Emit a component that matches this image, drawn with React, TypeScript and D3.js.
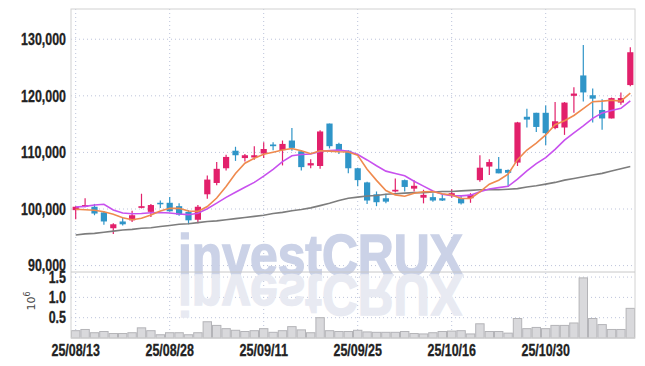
import React from "react";
import * as d3 from "d3";

const dates = [
  "25/08/13", "25/08/14", "25/08/18", "25/08/19", "25/08/20", "25/08/21", "25/08/22", "25/08/25", "25/08/26", "25/08/27",
  "25/08/28", "25/08/29", "25/09/01", "25/09/02", "25/09/03", "25/09/04", "25/09/05", "25/09/08", "25/09/09", "25/09/10",
  "25/09/11", "25/09/12", "25/09/15", "25/09/16", "25/09/17", "25/09/18", "25/09/19", "25/09/22", "25/09/23", "25/09/24",
  "25/09/25", "25/09/26", "25/09/29", "25/09/30", "25/10/01", "25/10/02", "25/10/10", "25/10/13", "25/10/14", "25/10/15",
  "25/10/16", "25/10/17", "25/10/20", "25/10/21", "25/10/22", "25/10/23", "25/10/24", "25/10/27", "25/10/28", "25/10/29",
  "25/10/30", "25/10/31", "25/11/03", "25/11/04", "25/11/05", "25/11/06", "25/11/07", "25/11/10", "25/11/11", "25/11/12",
];

const openP = [
  99800, 100400, 100400, 99400, 96600, 97800, 98000, 100200, 99500, 101100,
  101100, 100500, 99500, 98100, 102600, 104600, 107200, 110300, 109000, 109100,
  109800, 111400, 110400, 112100, 110200, 107700, 107600, 115100, 111500, 110300,
  107200, 104700, 102600, 101900, 103100, 105100, 103600, 102000, 102100, 101900,
  102400, 101900, 101900, 105100, 107500, 107100, 106900, 108200, 116300, 117000,
  117000, 114300, 114400, 120000, 123600, 120100, 117500, 116000, 118800, 121900,
];
const highP = [
  100500, 101900, 100900, 99600, 97500, 98600, 99700, 102700, 100900, 101500,
  102100, 101000, 99800, 100700, 105900, 108300, 109600, 111000, 109700, 111100,
  111800, 111800, 112100, 114300, 110300, 108800, 113900, 115100, 111700, 110400,
  107300, 104800, 103100, 102700, 105400, 105200, 105100, 103400, 102800, 102600,
  103500, 102400, 102800, 109500, 108800, 109200, 107000, 115400, 117700, 117000,
  118300, 118900, 118900, 121500, 129000, 121300, 119400, 119700, 120600, 128600,
];
const lowP = [
  98200, 100300, 98900, 97200, 95600, 97100, 97700, 100100, 98600, 100200,
  99500, 98800, 97300, 97500, 101800, 104200, 106800, 108500, 108400, 108700,
  109000, 110400, 107700, 110300, 106800, 107200, 107100, 110700, 109700, 106300,
  104000, 100900, 100500, 101000, 102900, 103100, 103100, 101000, 101300, 101400,
  102000, 100800, 101100, 104800, 106000, 106300, 103900, 107600, 114400, 113600,
  111300, 114100, 113100, 117000, 119000, 115300, 114000, 116000, 118400, 121700,
];
const closeP = [
  100400, 100700, 99200, 97800, 97300, 97300, 98900, 100500, 100700, 100900,
  99600, 99000, 98000, 100400, 105200, 107100, 109200, 109500, 109500, 109500,
  110600, 111100, 111500, 110800, 107400, 108100, 113700, 111100, 110300, 107200,
  105100, 101500, 101200, 101300, 103400, 103900, 104100, 102500, 101500, 101500,
  102800, 101000, 102500, 107300, 108300, 106300, 106400, 115300, 115800, 114500,
  113400, 115500, 118800, 120400, 120600, 119500, 116000, 119600, 119600, 127700,
];
const volume = [
  180000, 210000, 130000, 160000, 110000, 110000, 130000, 250000, 180000, 80000,
  130000, 130000, 80000, 130000, 400000, 310000, 230000, 190000, 160000, 180000,
  230000, 140000, 180000, 280000, 200000, 130000, 500000, 180000, 160000, 160000,
  190000, 150000, 140000, 140000, 140000, 160000, 110000, 100000, 130000, 160000,
  170000, 180000, 100000, 350000, 160000, 160000, 120000, 480000, 230000, 260000,
  230000, 310000, 310000, 370000, 1480000, 480000, 330000, 210000, 210000, 730000,
];
const ma5 = [
  99950, 99880, 99770, 99520, 99080, 98460, 98100, 98360, 98940, 99660,
  100120, 100140, 99640, 99580, 100440, 101940, 103980, 106280, 108100, 108960,
  109660, 110040, 110440, 110700, 110280, 109780, 110300, 110220, 110120, 110080,
  109480, 107040, 105060, 103260, 102500, 102260, 102780, 103040, 103080, 102700,
  102480, 101860, 101860, 103020, 104380, 105080, 106160, 108720, 110420, 111660,
  113080, 114900, 115600, 116520, 117740, 118960, 119060, 119220, 119060, 120480,
];
const ma10 = [
  100350, 100470, 100700, 100830, 99820, 99290, 99170, 99200, 99350, 99370,
  99290, 99120, 99000, 99260, 100050, 101030, 102060, 102960, 103840, 104700,
  105800, 107010, 108360, 109400, 109620, 109720, 110170, 110330, 110410, 110180,
  109630, 108670, 107640, 106690, 106290, 105870, 104910, 104050, 103170, 102600,
  102370, 102320, 102450, 103050, 103540, 103780, 104010, 105290, 106720, 108020,
  109080, 110530, 112160, 113470, 114700, 116020, 116980, 117410, 117790, 119110,
];
const ma60 = [
  95400, 95600, 95700, 95900, 96100, 96300, 96400, 96600, 96700, 96900,
  97100, 97300, 97400, 97600, 97800, 97900, 98100, 98300, 98500, 98700,
  98900, 99200, 99400, 99700, 99900, 100200, 100600, 101000, 101500, 101900,
  102100, 102300, 102400, 102600, 102700, 102800, 102900, 102900, 103000, 103100,
  103100, 103200, 103300, 103400, 103400, 103400, 103500, 103600, 103900, 104100,
  104400, 104700, 105100, 105400, 105700, 106000, 106300, 106700, 107100, 107500,
];

const priceTicks = [90000, 100000, 110000, 120000, 130000];
const volTicks = [500000, 1000000, 1500000];
const xLabels = ["25/08/13", "25/08/28", "25/09/11", "25/09/25", "25/10/16", "25/10/30"];

const upColor = "#e2206b";
const downColor = "#2f95c8";
const font = "'Liberation Sans', Arial, sans-serif";

// squeeze labels to the narrow width used in the reference
const narrowLen = (s: string) =>
  s.split("").reduce((w, ch) => w + (/[0-9]/.test(ch) ? 6.9 : 3.5), 0);

export default function App() {
  const width = 645;
  const height = 366;
  const left = 71, right = 635, top = 9, priceBottom = 272, volBottom = 338;

  const x = d3.scaleBand().domain(dates).range([left, right]).padding(0);
  const y = d3.scaleLinear().domain([88870, 135340]).range([priceBottom, top]);
  const yv = d3.scaleLinear().domain([0, 1625000]).range([volBottom, priceBottom]);
  const cx = (d: string) => (x(d) as number) + x.bandwidth() / 2;
  const bw = x.bandwidth() * 0.66;

  const line = (vals: number[]) =>
    d3
      .line<number>()
      .x((_, i) => cx(dates[i]))
      .y((v) => y(v))(vals) as string;

  const grid = "#bcc3da";

  return (
    <svg width={width} height={height} style={{ position: "absolute", left: 0, top: 0, background: "#fff" }}>
      {/* grid */}
      {priceTicks.map((t) => (
        <line key={"pg" + t} x1={left} x2={right} y1={y(t)} y2={y(t)} stroke={grid} strokeDasharray="1 3" />
      ))}
      {volTicks.map((t) => (
        <line key={"vg" + t} x1={left} x2={right} y1={yv(t)} y2={yv(t)} stroke={grid} strokeDasharray="1 3" />
      ))}
      {xLabels.map((d) => (
        <line key={"xg" + d} x1={cx(d)} x2={cx(d)} y1={top} y2={volBottom} stroke={grid} strokeDasharray="1 3" />
      ))}

      {/* watermark */}
      <g fontFamily="'Liberation Sans', Arial, sans-serif" fontWeight="bold" fontSize={57}>
        <text
          x={178}
          y={275}
          textLength={285}
          lengthAdjust="spacingAndGlyphs"
          fill="#cbd2e7"
          stroke="#cbd2e7"
          strokeWidth={1.5}
        >
          investCRUX
        </text>
        <text
          x={178}
          y={-275}
          transform="scale(1,-1)"
          textLength={285}
          lengthAdjust="spacingAndGlyphs"
          fill="#e8eaf2"
          stroke="#e8eaf2"
          strokeWidth={1.5}
        >
          investCRUX
        </text>
      </g>

      {/* volume */}
      {volume.map((v, i) => (
        <rect
          key={"v" + i}
          x={(x(dates[i]) as number) + 0.5}
          y={yv(v)}
          width={x.bandwidth() - 1}
          height={volBottom - yv(v)}
          fill="#d9d9dc"
          stroke="#b4b4b8"
          strokeWidth={1}
        />
      ))}

      {/* candles */}
      {dates.map((d, i) => {
        const o = openP[i], c = closeP[i];
        const col = c >= o ? upColor : downColor;
        const yTop = y(Math.max(o, c));
        const yBot = y(Math.min(o, c));
        return (
          <g key={"c" + i}>
            <line x1={cx(d)} x2={cx(d)} y1={y(highP[i])} y2={y(lowP[i])} stroke={col} strokeWidth={1.2} />
            <rect x={cx(d) - bw / 2} y={yTop} width={bw} height={Math.max(1.5, yBot - yTop)} fill={col} />
          </g>
        );
      })}

      {/* moving averages */}
      <path d={line(ma60)} fill="none" stroke="#7d7d7d" strokeWidth={1.6} />
      <path d={line(ma10)} fill="none" stroke="#c851ee" strokeWidth={1.6} />
      <path d={line(ma5)} fill="none" stroke="#ef8a4e" strokeWidth={1.6} />

      {/* frame */}
      <rect x={left} y={top} width={right - left} height={volBottom - top} fill="none" stroke="#d2d2d2" />
      <line x1={left} x2={right} y1={priceBottom} y2={priceBottom} stroke="#c8c8c8" />

      {/* axes labels */}
      <g fontFamily={font} fontWeight="bold" fontSize={16} fill="#222" stroke="#222" strokeWidth={0.3}>
        {priceTicks.map((t) => {
          const s = d3.format(",")(t);
          return (
            <text key={"pt" + t} x={66} y={y(t)} dy="0.36em" textAnchor="end" textLength={narrowLen(s)} lengthAdjust="spacingAndGlyphs">
              {s}
            </text>
          );
        })}
        {volTicks.map((t) => {
          const s = d3.format(".1f")(t / 1e6);
          return (
            <text key={"vt" + t} x={66} y={yv(t)} dy="0.36em" textAnchor="end" textLength={narrowLen(s)} lengthAdjust="spacingAndGlyphs">
              {s}
            </text>
          );
        })}
        {xLabels.map((d) => (
          <text key={"xt" + d} x={cx(d)} y={356} textAnchor="middle" textLength={narrowLen(d)} lengthAdjust="spacingAndGlyphs">
            {d}
          </text>
        ))}
      </g>
      <text
        transform="translate(35,301) rotate(-90)"
        fontFamily="'DejaVu Sans', sans-serif"
        fontSize={11}
        fill="#444"
        textAnchor="middle"
      >
        10
        <tspan dy={-5} fontSize={8}>6</tspan>
      </text>
    </svg>
  );
}
